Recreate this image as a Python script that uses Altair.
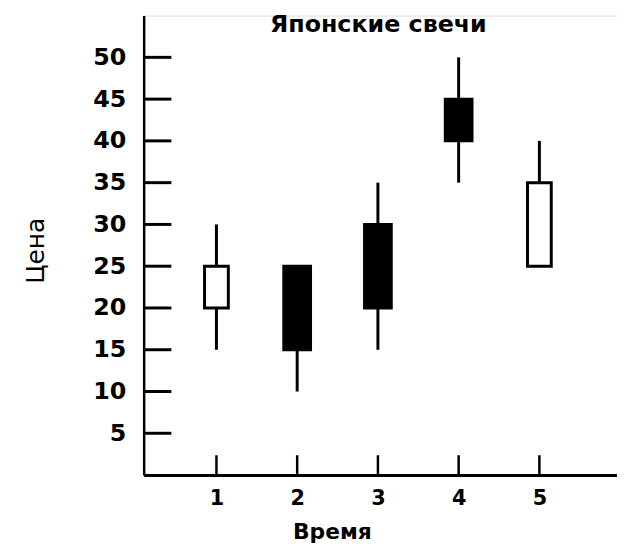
import altair as alt
import pandas as pd

# Candles (time, open, close, high, low)
times = [1, 2, 3, 4, 5]
opens = [20, 25, 30, 45, 25]
closes = [25, 15, 20, 40, 35]
highs = [30, 25, 35, 50, 40]
lows = [15, 10, 15, 35, 25]

y_ticks = [5, 10, 15, 20, 25, 30, 35, 40, 45, 50]
x_ticks = [1, 2, 3, 4, 5]
chart_title = ["Японские свечи"]

df = pd.DataFrame({"t": times, "open": opens, "close": closes, "high": highs, "low": lows})
df["lo_body"] = df[["open", "close"]].min(axis=1)
df["hi_body"] = df[["open", "close"]].max(axis=1)
df["kind"] = ["white" if c >= o else "black" for o, c in zip(opens, closes)]

W, H = 478, 464
FONT = "DejaVu Sans"

xs = alt.Scale(domain=[0.16, 5.9], nice=False, zero=False)
ys = alt.Scale(domain=[0, 55], nice=False)

x_axis = alt.Axis(values=x_ticks, grid=False, ticks=False, tickSize=0, domain=True,
                  domainColor="black", domainWidth=3, labelFont=FONT, labelFontSize=21,
                  labelFontWeight="bold", labelColor="black", labelPadding=13,
                  title="Время", titleFont=FONT, titleFontSize=22, titleFontWeight="bold",
                  titleColor="black", titleX=190, titleY=64, titleBaseline="alphabetic",
                  format="d")
y_axis = alt.Axis(values=y_ticks, grid=False, ticks=False, tickSize=0, domain=True,
                  domainColor="black", domainWidth=2.5, labelFont=FONT, labelFontSize=24,
                  labelFontWeight="bold", labelColor="black", labelPadding=18,
                  title="Цена", titleFont=FONT, titleFontSize=25, titleFontWeight="normal",
                  titleColor="black", titleX=-109, titleY=237, titleBaseline="middle",
                  format="d")

base = alt.Chart(df)

wicks = base.mark_rule(color="black", strokeWidth=3).encode(
    x=alt.X("t:Q", scale=xs, axis=x_axis),
    y=alt.Y("low:Q", scale=ys, axis=y_axis),
    y2="high:Q",
)

white_bodies = base.transform_filter(alt.datum.kind == "white").mark_bar(
    size=24, fill="white", stroke="black", strokeWidth=3
).encode(
    x=alt.X("t:Q", scale=xs, axis=x_axis),
    y=alt.Y("lo_body:Q", scale=ys, axis=y_axis),
    y2="hi_body:Q",
)

black_bodies = base.transform_filter(alt.datum.kind == "black").mark_bar(
    size=27, fill="black", stroke="black", strokeWidth=3
).encode(
    x=alt.X("t:Q", scale=xs, axis=x_axis),
    y=alt.Y("lo_body:Q", scale=ys, axis=y_axis),
    y2="hi_body:Q",
)

ytick_df = pd.DataFrame({"v": y_ticks})
xtick_df = pd.DataFrame({"v": x_ticks})

y_tick_marks = alt.Chart(ytick_df).mark_rule(color="black", strokeWidth=3).encode(
    y=alt.Y("v:Q", scale=ys, axis=y_axis),
    x=alt.value(0),
    x2=alt.value(28),
)
x_tick_marks = alt.Chart(xtick_df).mark_rule(color="black", strokeWidth=2.5).encode(
    x=alt.X("v:Q", scale=xs, axis=x_axis),
    y=alt.value(H),
    y2=alt.value(H - 20),
)

title_text = alt.Chart(pd.DataFrame({"label": chart_title})).mark_text(
    font=FONT, fontSize=24, fontWeight="bold", color="black",
    align="center", baseline="alphabetic"
).encode(
    text="label:N",
    x=alt.value(W / 2 - 2),
    y=alt.value(17),
)

chart = alt.layer(wicks, white_bodies, black_bodies, y_tick_marks, x_tick_marks, title_text).properties(
    width=W,
    height=H,
    autosize=alt.AutoSizeParams(type="none"),
    padding={"left": 137, "top": 5, "right": 0, "bottom": 69},
).configure_view(strokeWidth=0).configure(background="white")

chart.save("out.html", embed_options={"renderer": "svg", "actions": False})
